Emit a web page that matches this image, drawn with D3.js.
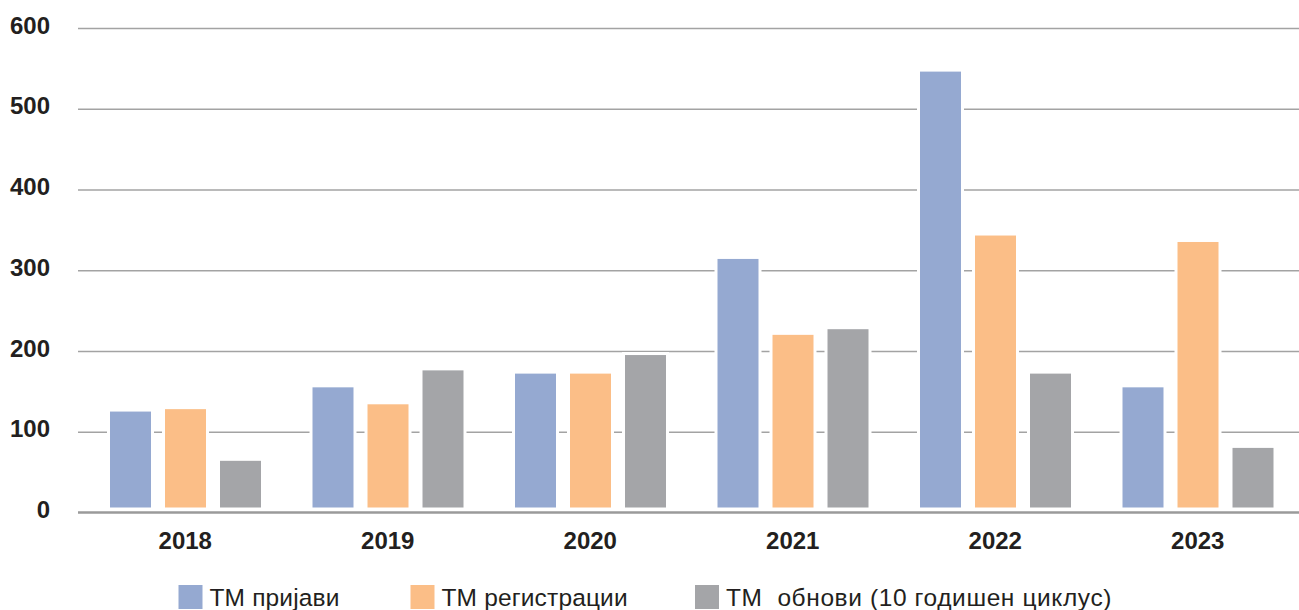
<!DOCTYPE html>
<html>
<head>
<meta charset="utf-8">
<script src="https://cdn.jsdelivr.net/npm/d3@7"></script>
<style>
  body { margin: 0; background: #fff; }
  svg { display: block; font-family: "Liberation Sans", Arial, Helvetica, sans-serif; }
</style>
</head>
<body>
<div id="chart"></div>
<script>
// data
var years = ["2018", "2019", "2020", "2021", "2022", "2023"];
var series = ["ТМ пријави", "ТМ регистрации", "ТМ  обнови (10 годишен циклус)"];
var prijavi      = [125, 155, 172, 314, 546, 155];
var registracii  = [128, 134, 172, 220, 343, 335];
var obnovi       = [64, 176, 195, 227, 172, 80];
var yTicks = [0, 100, 200, 300, 400, 500, 600];
var colors = ["#95a9d1", "#fbbe87", "#a4a5a8"];

var width = 1299,
    height = 610;

var values = [prijavi, registracii, obnovi];
var legendX = [178.5, 410.5, 695];

var svg = d3.select("#chart")
            .append("svg")
             .attr("width", width)
             .attr("height", height);

// scales
var y = d3.scaleLinear()
          .domain([0, 600])
          .range([512.5, 28]);

var x0 = d3.scaleBand()
           .domain(years)
           .range([84, 1299])
           .padding(0);

var x1 = d3.scaleBand()
           .domain(d3.range(series.length))
           .range([24.5, 178.5])
           .paddingInner(0.2)
           .paddingOuter(0);

// grid lines
var grid = svg.append("g")
              .attr("transform", "translate(78,0)")
              .call(d3.axisLeft(y).tickValues(yTicks).tickSize(-(width - 78)).tickFormat(""));
grid.select(".domain").remove();
grid.selectAll(".tick line")
    .attr("stroke", "#a3a3a3")
    .attr("stroke-width", 1.5);
grid.selectAll(".tick").filter(function(d) { return d === 0; }).remove();

// y labels
var yAxis = svg.append("g")
               .attr("transform", "translate(50,0)")
               .call(d3.axisLeft(y).tickValues(yTicks).tickSize(0).tickPadding(0));
yAxis.select(".domain").remove();
yAxis.selectAll("text")
     .attr("dy", 5)
     .attr("font-size", 24)
     .attr("font-weight", "bold")
     .attr("fill", "#231f20")
     .attr("font-family", null);

// bars
var groups = svg.selectAll("g.year")
                .data(years)
                .enter()
                .append("g")
                 .attr("class", "year")
                 .attr("transform", function(d) { return "translate(" + x0(d) + ",0)"; });

groups.selectAll("rect")
      .data(function(d, i) { return values.map(function(v, s) { return {s: s, v: v[i]}; }); })
      .enter()
      .append("rect")
       .attr("x", function(d) { return x1(d.s); })
       .attr("width", x1.bandwidth())
       .attr("y", function(d) { return y(d.v) - 1.5; })
       .attr("height", function(d) { return (y(0) - 3.5) - (y(d.v) - 1.5); })
       .attr("fill", function(d) { return colors[d.s]; })
       .attr("stroke", "#fff")
       .attr("stroke-width", 3);

// zero line
svg.append("line")
   .attr("x1", 78)
   .attr("x2", width)
   .attr("y1", y(0))
   .attr("y2", y(0))
   .attr("stroke", "#9a9a9a")
   .attr("stroke-width", 2.5);

// x labels
var xAxis = svg.append("g")
               .attr("transform", "translate(0," + y(0) + ")")
               .call(d3.axisBottom(x0).tickSize(0).tickPadding(0));
xAxis.select(".domain").remove();
xAxis.selectAll("text")
     .attr("y", 36)
     .attr("dy", 0)
     .attr("font-size", 24)
     .attr("font-weight", "bold")
     .attr("fill", "#231f20")
     .attr("font-family", null);

// legend
series.forEach(function(name, i) {
  var item = svg.append("g").attr("transform", "translate(" + legendX[i] + ",585)");
  item.append("rect")
      .attr("width", 24)
      .attr("height", 24)
      .attr("fill", colors[i]);
  item.append("text")
      .attr("x", 31)
      .attr("y", 21)
      .attr("font-size", 24.5)
      .attr("letter-spacing", i === 2 ? 0.6 : 0.15)
      .attr("fill", "#231f20")
      .style("white-space", "pre")
      .text(name);
});
</script>
</body>
</html>
